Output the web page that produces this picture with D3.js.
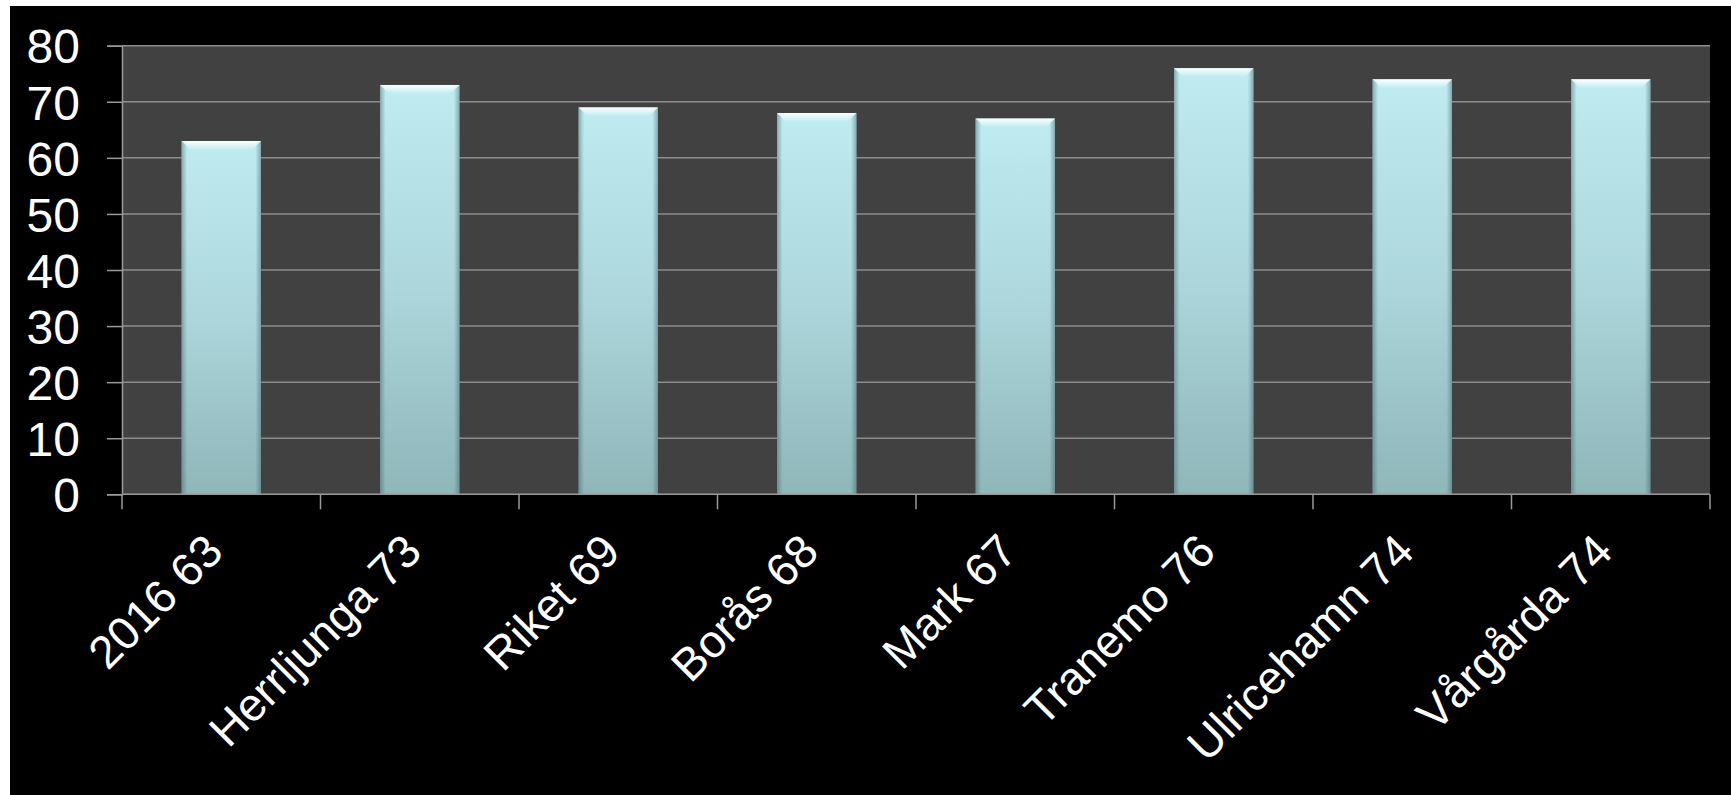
<!DOCTYPE html>
<html>
<head>
<meta charset="utf-8">
<script src="https://cdn.jsdelivr.net/npm/d3@7"></script>
<style>
  html, body { margin: 0; padding: 0; background: #ffffff; }
  svg { display: block; }
</style>
</head>
<body>
<svg id="chart" width="1731" height="795"></svg>
<script>
const categories = ["2016 63", "Herrljunga 73", "Riket 69", "Borås 68", "Mark 67", "Tranemo 76", "Ulricehamn 74", "Vårgårda 74"];
const values = [63, 73, 69, 68, 67, 76, 74, 74];
const yTicks = [0, 10, 20, 30, 40, 50, 60, 70, 80];

const W = 1731, H = 795;
const plot = { left: 122, right: 1710, top: 45.7, bottom: 494.3 };
const FONT = "'Liberation Sans', Arial, sans-serif";

const svg = d3.select("#chart");
const defs = svg.append("defs");

const barGrad = defs.append("linearGradient").attr("id", "barGrad")
  .attr("x1", 0).attr("y1", 0).attr("x2", 0).attr("y2", 1);
barGrad.append("stop").attr("offset", "0%").attr("stop-color", "#bfecf1");
barGrad.append("stop").attr("offset", "50%").attr("stop-color", "#acd6db");
barGrad.append("stop").attr("offset", "100%").attr("stop-color", "#8fb6b9");

const bevelGrad = defs.append("linearGradient").attr("id", "bevelGrad")
  .attr("x1", 0).attr("y1", 0).attr("x2", 0).attr("y2", 1);
bevelGrad.append("stop").attr("offset", "0%").attr("stop-color", "#ffffff").attr("stop-opacity", 1);
bevelGrad.append("stop").attr("offset", "100%").attr("stop-color", "#ffffff").attr("stop-opacity", 0);

const sideGrad = defs.append("linearGradient").attr("id", "sideGrad")
  .attr("x1", 0).attr("y1", 0).attr("x2", 1).attr("y2", 0);
sideGrad.append("stop").attr("offset", "0%").attr("stop-color", "#3d5c60").attr("stop-opacity", 0.45);
sideGrad.append("stop").attr("offset", "7%").attr("stop-color", "#3d5c60").attr("stop-opacity", 0);
sideGrad.append("stop").attr("offset", "93%").attr("stop-color", "#3d5c60").attr("stop-opacity", 0);
sideGrad.append("stop").attr("offset", "100%").attr("stop-color", "#3d5c60").attr("stop-opacity", 0.45);

// black slide background
svg.append("rect").attr("x", 10).attr("y", 6).attr("width", W - 10).attr("height", H - 6).attr("fill", "#000000");

const x = d3.scaleBand().domain(categories).range([plot.left, plot.right]).paddingInner(0.6).paddingOuter(0.3);
const y = d3.scaleLinear().domain([0, 80]).range([plot.bottom, plot.top]);

// plot area
svg.append("rect")
  .attr("x", plot.left).attr("y", plot.top)
  .attr("width", plot.right - plot.left).attr("height", plot.bottom - plot.top)
  .attr("fill", "#414141");

// gridlines
svg.append("g").selectAll("line").data(yTicks.filter(d => d > 0)).join("line")
  .attr("x1", plot.left).attr("x2", plot.right)
  .attr("y1", d => y(d)).attr("y2", d => y(d))
  .attr("stroke", "#8d8d8d").attr("stroke-width", 1.5);

// bars
const bars = svg.append("g").selectAll("g").data(categories).join("g");
bars.append("rect")
  .attr("x", d => x(d)).attr("y", (d, i) => y(values[i]))
  .attr("width", x.bandwidth()).attr("height", (d, i) => y(0) - y(values[i]))
  .attr("fill", "url(#barGrad)");
bars.append("rect")
  .attr("x", d => x(d)).attr("y", (d, i) => y(values[i]))
  .attr("width", x.bandwidth()).attr("height", (d, i) => y(0) - y(values[i]))
  .attr("fill", "url(#sideGrad)");
bars.append("path")
  .attr("d", (d, i) => {
    const x0 = x(d), x1 = x(d) + x.bandwidth(), t = y(values[i]), b = 9;
    return `M${x0},${t}L${x1},${t}L${x1 - b},${t + b}L${x0 + b},${t + b}Z`;
  })
  .attr("fill", "url(#bevelGrad)").attr("opacity", 0.95);

// y axis
const yAxis = svg.append("g").attr("transform", `translate(${plot.left},0)`)
  .call(d3.axisLeft(y).tickValues(yTicks).tickSize(15).tickPadding(27).tickFormat(d3.format("d")));
yAxis.select(".domain").attr("stroke", "#9a9a9a").attr("stroke-width", 1.5);
yAxis.selectAll(".tick line").attr("stroke", "#9a9a9a").attr("stroke-width", 1.5);
yAxis.selectAll(".tick text")
  .attr("fill", "#ffffff").attr("font-family", FONT).attr("font-size", 48).attr("dy", "0.36em");

// x axis line
svg.append("line")
  .attr("x1", plot.left).attr("x2", plot.right)
  .attr("y1", y(0)).attr("y2", y(0))
  .attr("stroke", "#9a9a9a").attr("stroke-width", 1.5);

// x tick marks at category boundaries
svg.append("g").selectAll("line").data(categories.map((c, i) => plot.left + i * x.step()).concat([plot.right])).join("line")
  .attr("x1", d => d).attr("x2", d => d)
  .attr("y1", y(0)).attr("y2", y(0) + 15)
  .attr("stroke", "#9a9a9a").attr("stroke-width", 1.5);

// x labels
svg.append("g").selectAll("text").data(categories).join("text")
  .attr("transform", d => `translate(${x(d) + x.bandwidth() / 2 + 4},${554}) rotate(-45)`)
  .attr("text-anchor", "end")
  .attr("fill", "#ffffff").attr("font-family", FONT).attr("font-size", 46)
  .text(d => d);
</script>
</body>
</html>
